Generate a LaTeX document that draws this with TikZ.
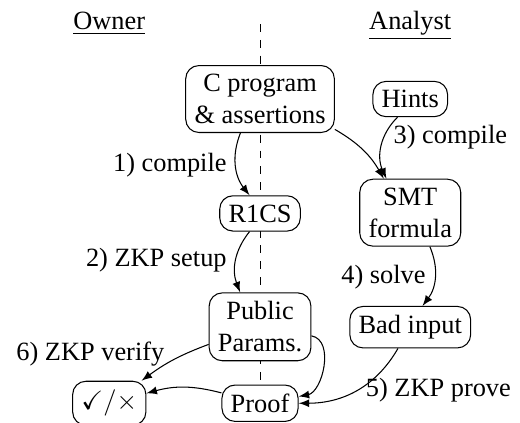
\documentclass[tikz,border=0pt]{standalone}
\usepackage{amssymb}
\usepackage{fontspec}
\setmainfont{Liberation Serif}
\usetikzlibrary{positioning}

\begin{document}
\begin{tikzpicture}[>=latex,
    stage/.style = {draw, rounded corners=5pt, align=center, fill=white}]
  \useasboundingbox (0,0) rectangle (6.933,-5.627);

  \coordinate (divtop) at (3.467,-0.32);
  \coordinate (divbot) at (3.467,-5.627);
  \coordinate (head) at (0,-0.393);
  \draw[dashed] (divtop) -- (divbot);

  \node[stage] (prog) at (3.467,-1.32) {C program\\ \& assertions};
  \node[stage, right=0.5cm of prog] (hints) {Hints};
  \node[stage, below=0.83cm of prog] (r1cs) {R1CS};
  \node[stage, below=0.81cm of r1cs] (params) {Public\\ Params.};
  \node[stage, below=0.31cm of params] (proof) {Proof};
  \node[stage, left=1.0cm of proof] (check) {$\checkmark/\times$};
  \node[stage, below=0.82cm of hints] (smt) {SMT\\ formula};
  \node[stage, below=0.79cm of smt] (bad) {Bad input};

  \node[anchor=base] (owner) at (check |- head) {\underline{Owner}};
  \node[anchor=base] (analyst) at (hints |- head) {\underline{Analyst}};

  \draw[->]
    (prog) edge[bend right=30] node[left] {1) compile} (r1cs)
    (r1cs) edge[bend right=30] node[left] {2) ZKP setup} (params)
    (prog) edge[bend left=15] (smt)
    (hints) edge[bend right=35] node[pos=0.35, right] {3) compile} (smt)
    (smt) edge[bend left=30] node[left] {4) solve} (bad)
    (bad) edge[out=-120, in=0] node[midway, right] {5) ZKP prove} (proof)
    (params) edge[out=-10, in=10] (proof)
    (params) edge[bend right=8] node[midway, left, yshift=2pt] {6) ZKP verify} (check)
    (proof) edge[bend right=15] (check);
\end{tikzpicture}
\end{document}
